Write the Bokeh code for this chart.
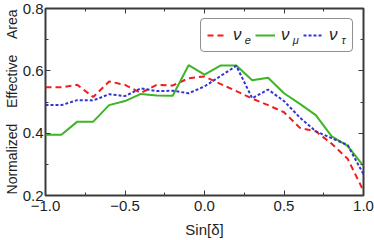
from bokeh.plotting import figure
from bokeh.models import Range1d, FixedTicker, LinearAxis, Legend, LegendItem, Label
from bokeh.embed import file_html
from bokeh.resources import INLINE

# ---- data ----
sin_delta = [-1.0, -0.9, -0.8, -0.7, -0.6, -0.5, -0.4, -0.3, -0.2, -0.1, 0.0,
             0.1, 0.2, 0.3, 0.4, 0.5, 0.6, 0.7, 0.8, 0.9, 1.0]
nu_e = [0.547, 0.547, 0.555, 0.516, 0.566, 0.555, 0.529, 0.555, 0.553, 0.576, 0.582,
        0.558, 0.535, 0.511, 0.490, 0.467, 0.417, 0.406, 0.366, 0.318, 0.215]
nu_mu = [0.395, 0.395, 0.437, 0.437, 0.490, 0.503, 0.526, 0.521, 0.520, 0.618, 0.588,
         0.617, 0.617, 0.570, 0.578, 0.528, 0.494, 0.458, 0.390, 0.359, 0.295]
nu_tau = [0.490, 0.490, 0.506, 0.505, 0.525, 0.519, 0.544, 0.535, 0.536, 0.528, 0.550,
          0.583, 0.616, 0.512, 0.540, 0.503, 0.450, 0.406, 0.384, 0.362, 0.268]

x_ticks = [-1.0, -0.5, 0.0, 0.5, 1.0]
x_minor = [-0.75, -0.25, 0.25, 0.75]
x_tick_labels = ["\u22121.0", "\u22120.5", "0.0", "0.5", "1.0"]
y_ticks = [0.2, 0.4, 0.6, 0.8]
y_minor = [0.3, 0.5, 0.7]
y_tick_labels = ["0.2", "0.4", "0.6", "0.8"]
series_names = ["e", "\u03bc", "\u03c4"]

FONT = "Liberation Sans"
DARK = "#3a3a3a"
TXT = "#1e1e1e"

p = figure(width=374, height=240, output_backend="svg", toolbar_location=None,
           x_range=Range1d(-1, 1), y_range=Range1d(0.2, 0.8),
           min_border_left=0, min_border_right=11, min_border_top=8, min_border_bottom=43)
p.grid.visible = False
p.outline_line_color = DARK
p.outline_line_width = 2
p.background_fill_color = "white"
p.border_fill_color = "white"

def style_axis(ax, ticks, minor, labels, show_labels):
    ax.ticker = FixedTicker(ticks=ticks, minor_ticks=minor)
    ax.axis_line_color = None
    ax.major_tick_in = 5
    ax.major_tick_out = 0
    ax.minor_tick_in = 3
    ax.minor_tick_out = 0
    ax.major_tick_line_color = DARK
    ax.minor_tick_line_color = DARK
    ax.major_tick_line_width = 1
    if show_labels:
        ax.major_label_overrides = {t: l for t, l in zip(ticks, labels)}
        ax.major_label_text_font = FONT
        ax.major_label_text_color = TXT
    else:
        ax.major_label_text_font_size = "1px"
        ax.major_label_text_color = None
        ax.major_label_standoff = 0

style_axis(p.xaxis[0], x_ticks, x_minor, x_tick_labels, True)
p.xaxis[0].major_label_text_font_size = "15px"
p.xaxis[0].major_label_standoff = 5
p.xaxis[0].axis_label = "Sin[\u03b4]"
p.xaxis[0].axis_label_text_font = FONT
p.xaxis[0].axis_label_text_font_size = "15px"
p.xaxis[0].axis_label_text_font_style = "normal"
p.xaxis[0].axis_label_text_color = TXT
p.xaxis[0].axis_label_standoff = 7

style_axis(p.yaxis[0], y_ticks, y_minor, y_tick_labels, True)
p.yaxis[0].major_label_text_font_size = "15px"
p.yaxis[0].major_label_standoff = 2
p.yaxis[0].axis_label = "Normalized\u00a0\u00a0\u00a0\u00a0Effective\u00a0\u00a0\u00a0\u00a0Area"
p.yaxis[0].axis_label_text_font = FONT
p.yaxis[0].axis_label_text_font_size = "14px"
p.yaxis[0].axis_label_text_font_style = "normal"
p.yaxis[0].axis_label_text_color = TXT
p.yaxis[0].axis_label_standoff = 0

top_ax = LinearAxis()
style_axis(top_ax, x_ticks, x_minor, x_tick_labels, False)
p.add_layout(top_ax, "above")
right_ax = LinearAxis()
style_axis(right_ax, y_ticks, y_minor, y_tick_labels, False)
p.add_layout(right_ax, "right")

r_e = p.line(sin_delta, nu_e, line_color="#f01e1e", line_width=2, line_dash="6 4")
r_mu = p.line(sin_delta, nu_mu, line_color="#3cb526", line_width=2)
r_tau = p.line(sin_delta, nu_tau, line_color="#3434d6", line_width=2, line_dash="3 2")

legend = Legend(items=[LegendItem(label="\u03bd", renderers=[r_e]),
                       LegendItem(label="\u03bd", renderers=[r_mu]),
                       LegendItem(label="\u03bd", renderers=[r_tau])],
                orientation="horizontal", location="top_right", margin=10,
                padding=6, spacing=5, label_standoff=6, glyph_width=20, glyph_height=20,
                label_width=17, label_height=20,
                label_text_font=FONT, label_text_font_size="17px",
                label_text_font_style="italic", label_text_color=TXT,
                border_line_color="#222222", border_line_width=1.2,
                background_fill_color="white", background_fill_alpha=0.0)
try:
    legend.border_radius = 4
except Exception:
    pass
p.add_layout(legend)

# subscripts of the legend labels (positioned in data units inside the legend box)
sub_x = [0.273, 0.574, 0.875]
sub_y = 0.70
for name, sx in zip(series_names, sub_x):
    p.add_layout(Label(x=sx, y=sub_y, text=name,
                       text_font=FONT, text_font_size="11px", text_font_style="italic",
                       text_color=TXT, text_align="center", text_baseline="middle"))

open("out.html", "w").write(file_html(p, INLINE))
